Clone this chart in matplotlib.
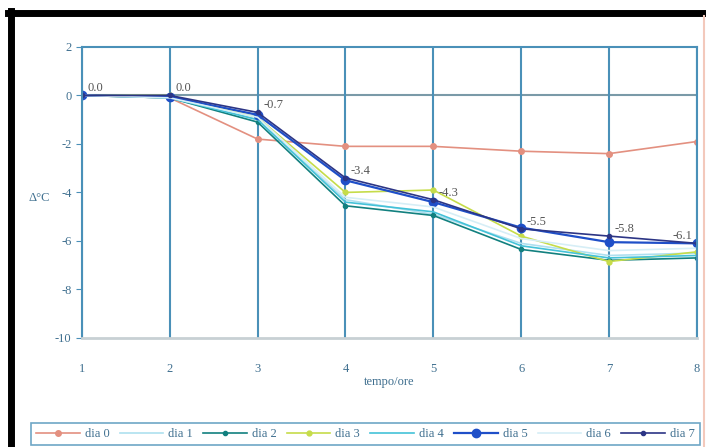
import matplotlib
matplotlib.use("Agg")
from matplotlib import pyplot as plt
from matplotlib.lines import Line2D

plt.rcParams["font.family"] = ["Liberation Serif", "DejaVu Serif"]
plt.rcParams["axes.unicode_minus"] = False

ore = [1, 2, 3, 4, 5, 6, 7, 8]
dia0 = [0.0, -0.1, -1.8, -2.1, -2.1, -2.3, -2.4, -1.9]
dia1 = [0.0, -0.1, -1.0, -4.3, -4.9, -6.1, -6.6, -6.5]
dia2 = [0.0, -0.1, -1.1, -4.55, -4.95, -6.35, -6.8, -6.7]
dia3 = [0.0, 0.0, -0.9, -4.0, -3.9, -5.8, -6.85, -6.45]
dia4 = [0.0, -0.1, -1.0, -4.4, -4.8, -6.2, -6.7, -6.6]
dia5 = [0.0, -0.05, -0.8, -3.5, -4.4, -5.45, -6.05, -6.1]
dia6 = [0.0, -0.1, -0.9, -4.2, -4.6, -5.9, -6.4, -6.3]
dia7 = [0.0, 0.0, -0.7, -3.4, -4.3, -5.5, -5.8, -6.1]
etichette = ["dia 0", "dia 1", "dia 2", "dia 3", "dia 4", "dia 5", "dia 6", "dia 7"]

serie = [dia0, dia1, dia2, dia3, dia4, dia5, dia6, dia7]
stili = [
    dict(color="#e39080", marker="o", ms=4, lw=1.2),
    dict(color="#aee0ef", marker="", lw=1.2),
    dict(color="#12807f", marker="o", ms=3, lw=1.2),
    dict(color="#c6dc4a", marker="o", ms=3.5, lw=1.2),
    dict(color="#44c2d8", marker="", lw=1.2),
    dict(color="#1f4fc8", marker="o", ms=6, lw=1.6),
    dict(color="#d6eef6", marker="", lw=1.2),
    dict(color="#2c3585", marker="o", ms=3, lw=1.2),
]

testo = "#3f6f8f"
griglia = "#4a90b8"

fig = plt.figure(figsize=(7.06, 4.47), dpi=100)
ax = fig.add_axes([0.116, 0.244, 0.871, 0.651])

for s, st, lab in zip(serie, stili, etichette):
    ax.plot(ore, s, label=lab, **st)

for i, (x, y) in enumerate(zip(ore, dia7)):
    ultimo = i == len(ore) - 1
    ax.annotate(f"{y:.1f}", (x, y), xytext=(-3 if ultimo else 4, 3),
                textcoords="offset points", ha="right" if ultimo else "left",
                fontsize=9, color="#555555")

ax.set_xlim(1, 8)
ax.set_ylim(-10, 2)
ax.set_xticks(ore)
ax.set_yticks([2, 0, -2, -4, -6, -8, -10])
ax.xaxis.grid(True, color=griglia, lw=1.5)
ax.axhline(0, color="#7a9aa8", lw=1.5, zorder=0)
ax.tick_params(axis="x", length=0, pad=18, labelsize=9, labelcolor=testo)
ax.tick_params(axis="y", length=4, color=griglia, labelsize=9, labelcolor=testo)
for lato in ["top", "left", "right"]:
    ax.spines[lato].set_color(griglia)
    ax.spines[lato].set_linewidth(1.5)
ax.spines["bottom"].set_color("#c8d0d4")
ax.spines["bottom"].set_linewidth(2)

ax.set_xlabel("tempo/ore", fontsize=9, color=testo, labelpad=1)
ax.set_ylabel("Δ°C", fontsize=9, color=testo, rotation=0, labelpad=6)
ax.yaxis.set_label_coords(-0.07, 0.46)

leg = fig.legend(loc="lower left", bbox_to_anchor=(0.035, -0.01, 0.965, 0.09),
                 mode="expand", ncol=8, fontsize=9, frameon=True, fancybox=False,
                 handlelength=3.5, columnspacing=1.0, handletextpad=0.4)
leg.get_frame().set_edgecolor(griglia)
leg.get_frame().set_linewidth(1.2)
for t in leg.get_texts():
    t.set_color(testo)

# cornice della figura
fig.add_artist(Line2D([0.011, 1.0], [0.97, 0.97], color="black", lw=5))
fig.add_artist(Line2D([0.015, 0.015], [0.0, 0.975], color="black", lw=5))
fig.add_artist(Line2D([0.997, 0.997], [0.0, 0.965], color="#f3c9bc", lw=1.5))

fig.savefig("out.png", dpi=100)
